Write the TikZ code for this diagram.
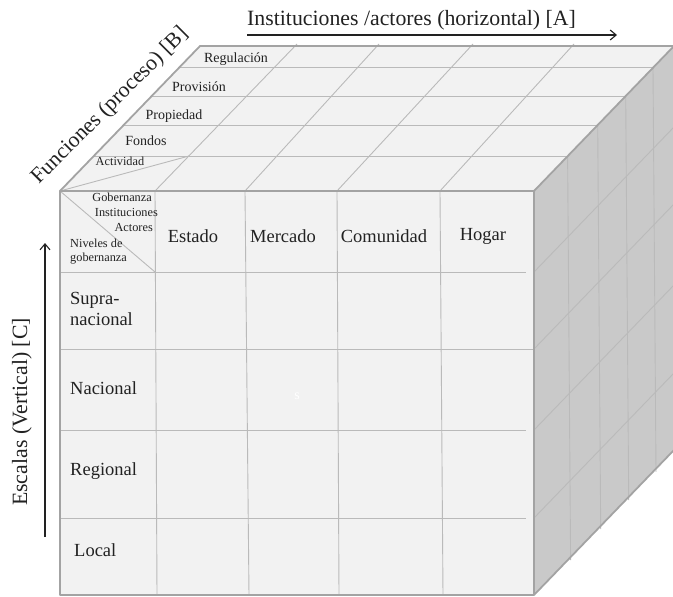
\documentclass[tikz,border=0pt]{standalone}
\usepackage{fontspec}
\setmainfont{Liberation Serif}
\usetikzlibrary{positioning, arrows.meta}

\definecolor{cara}{HTML}{F2F2F2}
\definecolor{lado}{HTML}{C9C9C9}
\definecolor{rejilla}{HTML}{BABABA}
\definecolor{borde}{HTML}{A3A3A3}
\definecolor{tinta}{HTML}{222222}

\tikzset{
    grid/.style = {draw = rejilla, line width = 0.9pt},
    edge/.style = {draw = borde, line width = 1.8pt, line join = round},
    flecha/.style = {-{Straight Barb[length = 6pt, width = 10pt]}, tinta, line width = 1.1pt},
    etiq/.style = {inner sep = 0pt, text = tinta, font = \fontsize{18.5}{21}\selectfont},
    fila/.style = {etiq, anchor = west, align = left},
    chica/.style = {inner sep = 0pt, text = tinta, font = \fontsize{14}{15}\selectfont},
    mini/.style = {inner sep = 0pt, text = tinta, font = \fontsize{12.3}{13}\selectfont},
    eje/.style = {inner sep = 0pt, text = tinta, font = \fontsize{21.8}{23}\selectfont}
}

\begin{document}
\begin{tikzpicture}[x = 1pt, y = -1pt]
            % \draw[style = help lines, step = 50] (0,0) grid (673,597);
            \useasboundingbox (0,0) rectangle (673,597);
            \begin{scope}
            \clip (0,0) rectangle (673,597);

            % cara lateral
            \fill[lado] (534,191) -- (674,46) -- (674,450) -- (534,595) -- cycle;
            \foreach \t in {0.24, 0.455, 0.655, 0.85}
                \draw[grid] ({534+140*\t}, {191-145*\t}) -- ({537+140*\t}, {595-145*\t});
            \foreach \y in {272, 349, 430, 518}
                \draw[grid] (534,\y) -- (674,\y-145);

            % cara superior
            \fill[cara] (60,191) -- (200,46) -- (674,46) -- (534,191) -- cycle;
            \foreach \t in {0.24, 0.455, 0.655, 0.85}
                \draw[grid] ({60+140*\t}, {191-145*\t}) -- ({534+140*\t}, {191-145*\t});
            \foreach \a/\b in {155/297, 245/379, 337/473, 440/574}
                \draw[grid] (\a,191) -- (\b,44);
            \draw[grid] (60,191) -- (189,156);
            \draw[edge] (60,191) -- (200,46) -- (674,46);
            \draw[edge] (534,191) -- (674,46);
            \draw[edge] (534,595) -- (674,450);
            \end{scope}

            % cara frontal
            \fill[cara] (60,191) rectangle (534,595);
            \draw[grid] (155,191) -- (157,595);
            \draw[grid] (245,191) -- (249,595);
            \draw[grid] (337,191) -- (339,595);
            \draw[grid] (440,191) -- (443,595);
            \draw[grid] (60,272) -- (526,272);
            \draw[grid] (60,349) -- (534,349);
            \draw[grid] (60,430) -- (526,430);
            \draw[grid] (60,518) -- (526,518);
            \draw[grid] (60,191) -- (155,272);
            \draw[edge] (60,191) rectangle (534,595);

            % funciones
            \node[chica] (regulacion) at (236,59) {Regulación};
            \node[chica] (provision) at (199,87) {Provisión};
            \node[chica] (propiedad) at (174,116) {Propiedad};
            \node[chica] (fondos) at (146,141) {Fondos};
            \node[mini] (actividad) at (120,161) {Actividad};

            % cabecera
            \node[mini, anchor = east] (gob) at (152,197) {Gobernanza};
            \node[mini, anchor = east] (inst) at (158,212) {Instituciones};
            \node[mini, anchor = east] (act) at (153,227) {Actores};
            \node[mini, anchor = west] (niv) at (70,243) {Niveles de};
            \node[mini, anchor = west] (gobniv) at (70,259) {gobernanza};

            \node[etiq] (estado) at (193,236) {Estado};
            \node[etiq] (mercado) at (283,236) {Mercado};
            \node[etiq] (comunidad) at (384,236) {Comunidad};
            \node[etiq] (hogar) at (483,236) {Hogar};

            \node[fila] (supra) at (70,309) {Supra-\\nacional};
            \node[fila] (nacional) at (70,388) {Nacional};
            \node[fila] (regional) at (70,471) {Regional};
            \node[fila] (local) at (74,550) {Local};
            \node[chica, text = white] (marca) at (297,396) {s};

            % ejes
            \node[eje, anchor = base west] (ejeA) at (247,26) {Instituciones /actores (horizontal) [A]};
            \draw[flecha] (247,35) -- (617,35);
            \node[eje, rotate = 45] (ejeB) at (110,106) {Funciones (proceso) [B]};
            \node[eje, rotate = 90] (ejeC) at (22,412) {Escalas (Vertical) [C]};
            \draw[flecha] (45,537) -- (45,243);
        \end{tikzpicture}
\end{document}
